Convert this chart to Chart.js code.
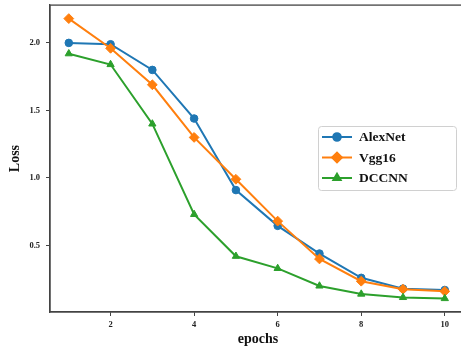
<!DOCTYPE html>
<html>
<head>
<meta charset="utf-8">
<title>Loss per epoch</title>
<script src="https://cdn.jsdelivr.net/npm/chart.js@4.4.1/dist/chart.umd.min.js"></script>
<style>
    html, body { margin: 0; padding: 0; background: #fff; overflow: hidden; }
    body { width: 461px; height: 351px; position: relative; }
    /* canvas a bit larger than the window so the plot box runs off the right edge */
    #wrap { position: absolute; left: 0; top: -6px; width: 472px; height: 357px; }
</style>
</head>
<body>
<div id="wrap"><canvas id="lossChart"></canvas></div>
<script>
// Training loss per epoch for each network
const epochs = [1, 2, 3, 4, 5, 6, 7, 8, 9, 10];
const alexnetLoss = [2.00, 1.99, 1.80, 1.44, 0.91, 0.645, 0.44, 0.26, 0.18, 0.17];
const vgg16Loss = [2.18, 1.96, 1.69, 1.30, 0.99, 0.68, 0.40, 0.235, 0.176, 0.16];
const dccnnLoss = [1.92, 1.84, 1.40, 0.73, 0.42, 0.33, 0.20, 0.14, 0.115, 0.107];

const seriesNames = ['AlexNet', 'Vgg16', 'DCCNN'];
const xTicks = [2, 4, 6, 8, 10];
const yTicks = [0.5, 1.0, 1.5, 2.0];

const colors = {
    blue: '#1f77b4',
    orange: '#ff7f0e',
    green: '#2ca02c',
    frame: '#444'
};

const serif = '"Liberation Serif", "Times New Roman", serif';

function toPoints(values) {
    return epochs.map((e, i) => ({ x: e, y: values[i] }));
}

function makeDataset(label, values, color, style, radius, order) {
    return {
        label: label,
        data: toPoints(values),
        borderColor: color,
        backgroundColor: color,
        borderWidth: 2,
        pointStyle: style,
        pointRadius: radius,
        pointBackgroundColor: color,
        pointBorderColor: color,
        pointBorderWidth: 1,
        tension: 0,
        order: order
    };
}

// Box around the plot area (top and right edges too)
const framePlugin = {
    id: 'frame',
    afterDraw(chart) {
        const { ctx, chartArea: a } = chart;
        ctx.save();
        ctx.strokeStyle = colors.frame;
        ctx.lineWidth = 1.3;
        ctx.strokeRect(a.left, a.top, a.right - a.left, a.bottom - a.top);
        ctx.restore();
    }
};

// Legend drawn inside the plot, at the right (canvas is shifted up by 6px)
const insideLegend = {
    id: 'insideLegend',
    afterDraw(chart) {
        const ctx = chart.ctx;
        const box = { x: 318, y: 132, w: 138, h: 64, r: 3 };
        ctx.save();
        ctx.beginPath();
        ctx.roundRect(box.x + 0.5, box.y + 0.5, box.w, box.h, box.r);
        ctx.fillStyle = 'rgba(255,255,255,0.85)';
        ctx.fill();
        ctx.strokeStyle = '#d0d0d0';
        ctx.lineWidth = 1;
        ctx.stroke();

        ctx.font = 'bold 13.5px ' + serif;
        ctx.textBaseline = 'middle';
        ctx.textAlign = 'left';
        chart.data.datasets.forEach((ds, i) => {
            const y = box.y + 11 + i * 20.5;
            ctx.strokeStyle = ds.borderColor;
            ctx.lineWidth = ds.borderWidth;
            ctx.beginPath();
            ctx.moveTo(322, y);
            ctx.lineTo(352, y);
            ctx.stroke();
            ctx.fillStyle = ds.backgroundColor;
            Chart.helpers.drawPoint(ctx, {
                pointStyle: ds.pointStyle,
                radius: ds.pointRadius,
                borderWidth: 1,
                rotation: 0
            }, 337, y);
            ctx.fill();
            ctx.fillStyle = '#111';
            ctx.fillText(ds.label, 359, y + 1);
        });
        ctx.restore();
    }
};

const ctx = document.getElementById('lossChart').getContext('2d');

const lossChart = new Chart(ctx, {
    type: 'line',
    data: {
        datasets: [
            makeDataset(seriesNames[0], alexnetLoss, colors.blue, 'circle', 3.8, 3),
            makeDataset(seriesNames[1], vgg16Loss, colors.orange, 'rectRot', 4.9, 2),
            makeDataset(seriesNames[2], dccnnLoss, colors.green, 'triangle', 4.2, 1)
        ]
    },
    options: {
        responsive: true,
        maintainAspectRatio: false,
        devicePixelRatio: 1,
        animation: false,
        layout: { padding: { top: 5, right: 0, left: 0, bottom: 0 } },
        plugins: {
            legend: { display: false },
            tooltip: { enabled: false }
        },
        scales: {
            x: {
                type: 'linear',
                min: 0.55,
                max: 10.51,
                afterBuildTicks(scale) {
                    scale.ticks = xTicks.map(v => ({ value: v }));
                },
                afterFit(scale) {
                    scale.height = 39;
                },
                grid: {
                    drawOnChartArea: false,
                    drawTicks: true,
                    tickLength: 4,
                    color: colors.frame
                },
                border: { color: colors.frame, width: 1.3 },
                ticks: {
                    padding: 4,
                    color: '#222',
                    font: { family: serif, size: 8.5, weight: 'bold' },
                    callback: v => String(v)
                },
                title: {
                    display: true,
                    text: 'epochs',
                    color: '#111',
                    font: { family: serif, size: 14, weight: 'bold' },
                    padding: { top: 0, bottom: 3 }
                }
            },
            y: {
                type: 'linear',
                min: 0.007,
                max: 2.28,
                afterBuildTicks(scale) {
                    scale.ticks = yTicks.map(v => ({ value: v }));
                },
                afterFit(scale) {
                    scale.width = 50;
                },
                grid: {
                    drawOnChartArea: false,
                    drawTicks: true,
                    tickLength: 4,
                    color: colors.frame
                },
                border: { color: colors.frame, width: 1.3 },
                ticks: {
                    padding: 6,
                    color: '#222',
                    font: { family: serif, size: 8.5, weight: 'bold' },
                    callback: v => Number(v).toFixed(1)
                },
                title: {
                    display: true,
                    text: 'Loss',
                    color: '#111',
                    font: { family: serif, size: 14, weight: 'bold' },
                    padding: { top: 7, bottom: 0 }
                }
            }
        }
    },
    plugins: [framePlugin, insideLegend]
});
</script>
</body>
</html>
